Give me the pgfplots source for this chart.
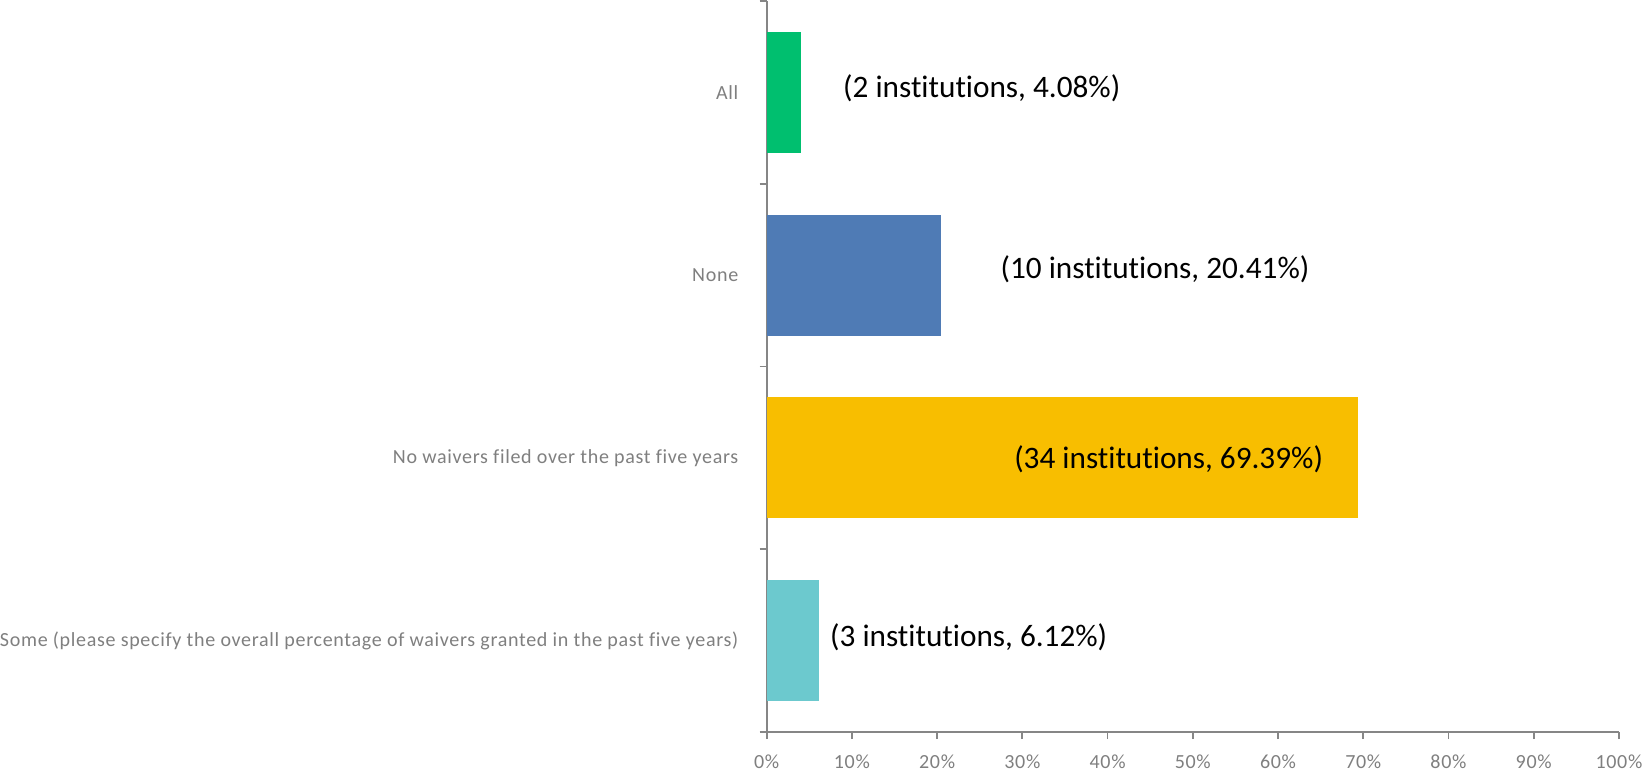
\documentclass[border=0pt]{standalone}
\usepackage{fontspec}
\setmainfont{Carlito}[Ligatures=NoCommon]
\newfontfamily\catfont{Carlito}[Ligatures=NoCommon, LetterSpace=3.4]
\usepackage{pgfplots}
\pgfplotsset{compat=1.18}
\definecolor{cAll}{RGB}{0,191,111}
\definecolor{cNone}{RGB}{79,123,181}
\definecolor{cNo}{RGB}{248,190,0}
\definecolor{cSome}{RGB}{108,201,206}
\definecolor{axgrey}{RGB}{134,134,134}
\definecolor{lblgrey}{RGB}{127,127,127}
% "institutions" without the t-i ligature
\newcommand{\inst}{inst\kern0pt it\kern0pt ut\kern0pt ions}

\begin{document}
\begin{tikzpicture}
\begin{axis}[
    scale only axis,
    width=425.5pt, height=365pt,
    xbar, bar shift=0pt, bar width=60.5pt,
    xmin=0, xmax=100,
    ymin=-0.5, ymax=3.5,
    axis x line*=bottom, axis y line*=left,
    axis line style={axgrey, line width=0.9pt, -},
    tick align=outside,
    major tick length=3.5pt,
    tick style={axgrey, line width=0.9pt},
    xtick={0,10,...,100},
    xticklabel={\pgfmathprintnumber{\tick}\%},
    /pgf/number format/assume math mode=true,
    ytick={-0.5,0.5,1.5,2.5,3.5},
    yticklabels={},
    extra y ticks={0,1,2,3},
    extra y tick labels={Some (please specify the overall percentage of waivers granted in the past five years),No waivers filed over the past five years,None,All},
    extra y tick style={tick style={draw=none}},
    yticklabel style={text=lblgrey, font=\catfont\fontsize{10}{12}\selectfont, inner sep=0pt, xshift=-10.5pt},
    xticklabel style={text=lblgrey, font=\catfont\fontsize{10}{12}\selectfont, yshift=-4.5pt},
    clip=false,
]
\addplot[fill=cSome, draw=none] coordinates {(6.12,0)};
\addplot[fill=cNo, draw=none] coordinates {(69.39,1)};
\addplot[fill=cNone, draw=none] coordinates {(20.41,2)};
\addplot[fill=cAll, draw=none] coordinates {(4.08,3)};

\node[anchor=west, inner sep=0pt, font=\fontsize{15.6}{18}\selectfont] at (axis cs:8.93,3.02) {(2 \inst, 4.08\%)};
\node[anchor=west, inner sep=0pt, font=\fontsize{15.6}{18}\selectfont] at (axis cs:27.4,2.03) {(10 \inst, 20.41\%)};
\node[anchor=west, inner sep=0pt, font=\fontsize{15.6}{18}\selectfont] at (axis cs:29.0,0.99) {(34 \inst, 69.39\%)};
\node[anchor=west, inner sep=0pt, font=\fontsize{15.6}{18}\selectfont] at (axis cs:7.4,0.02) {(3 \inst, 6.12\%)};
\end{axis}
\end{tikzpicture}
\end{document}
